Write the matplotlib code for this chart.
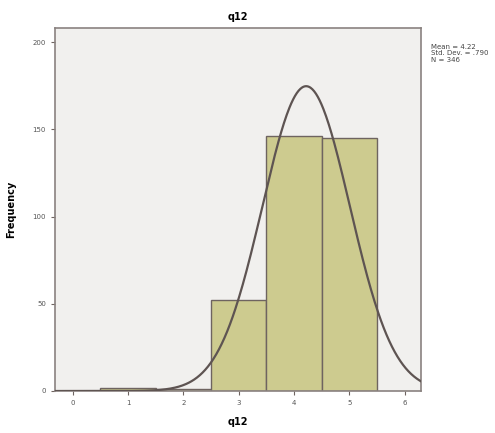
import matplotlib
matplotlib.use("Agg")
import matplotlib.pyplot as plt
import numpy as np

# histogram of q12 (values 1..5)
categories = [1, 2, 3, 4, 5]
counts = [2, 1, 52, 146, 145]

# summary statistics shown beside the chart
mean = 4.22
std_dev = 0.790
n_total = sum(counts)

fig = plt.figure(figsize=(4.95, 4.33), dpi=100)
ax = fig.add_axes([0.111, 0.097, 0.740, 0.838])
ax.set_facecolor("#f1f0ee")

ax.bar(categories, counts, width=1.0, color="#cdcb8f",
       edgecolor="#6e6460", linewidth=1.0, zorder=2)

# fitted normal curve scaled to counts (bin width 1)
xs = np.linspace(-0.3, 6.3, 400)
ys = n_total / (std_dev * np.sqrt(2 * np.pi)) * np.exp(-0.5 * ((xs - mean) / std_dev) ** 2)
ax.plot(xs, ys, color="#5e5452", linewidth=1.6, zorder=3)

ax.set_xlim(-0.32, 6.3)
ax.set_ylim(0, 208)
ax.set_xticks(range(0, 7))
ax.set_yticks([0, 50, 100, 150, 200])
ax.tick_params(labelsize=5, length=3, color="#6e6460", labelcolor="#555555")
for sp in ax.spines.values():
    sp.set_color("#8a8280")
    sp.set_linewidth(1.2)

ax.set_title("q12", fontsize=7, fontweight="bold", pad=6)
ax.set_xlabel("q12", fontsize=7, fontweight="bold", labelpad=8)
ax.set_ylabel("Frequency", fontsize=7, fontweight="bold", labelpad=12)

sd_txt = f"{std_dev:.3f}".lstrip("0")
fig.text(0.870, 0.898, f"Mean = {mean:.2f}\nStd. Dev. = {sd_txt}\nN = {n_total}",
         fontsize=5, va="top", ha="left", color="#444444", linespacing=1.05)

fig.savefig("out.png", dpi=100, facecolor="white")
